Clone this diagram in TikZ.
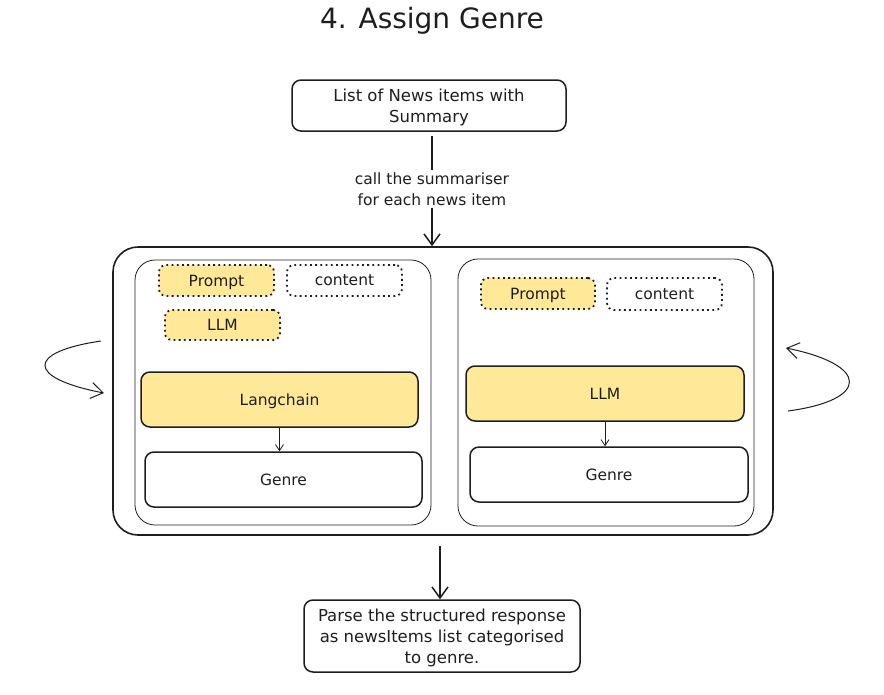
\documentclass[tikz,border=0pt]{standalone}
\usepackage{fontspec}
\setmainfont{DejaVu Sans}
\usetikzlibrary{arrows.meta}
\definecolor{ink}{HTML}{1E1E1E}
\definecolor{ylw}{HTML}{FFE999}
\tikzset{
  box/.style={draw=ink, line width=1.5pt, rounded corners=9pt, inner sep=0pt, align=center, text depth=0pt, font=\fontsize{15.5}{21}\selectfont, text=ink},
  ybox/.style={box, fill=ylw},
  dbox/.style={draw=ink, line width=1.8pt, dash pattern=on 1.8pt off 3.4pt, rounded corners=7pt, inner sep=0pt, text depth=0pt, font=\fontsize{15.5}{17}\selectfont, text=ink},
  frame/.style={draw=ink, inner sep=0pt},
  arr/.style={draw=ink, line width=1.5pt, -{Straight Barb[length=11pt,width=16pt]}},
  thinarr/.style={draw=ink, line width=0.8pt, -{Straight Barb[length=6pt,width=8pt]}},
  looparr/.style={draw=ink, line width=1pt, -{Straight Barb[length=12pt,width=16pt]}},
  lbl/.style={fill=white, inner sep=2pt, align=center, font=\fontsize{15.5}{21}\selectfont, text=ink},
  big/.style={font=\fontsize{16.5}{21}\selectfont}
}
\begin{document}
\begin{tikzpicture}[x=1pt,y=-1pt]
\useasboundingbox (0,0) rectangle (884,694);
\node[font=\fontsize{28}{32}\selectfont, text=ink, text depth=0pt] (title) at (432,18) {4. Assign Genre};
\node[box, big, minimum width=274pt, minimum height=51pt] (top) at (429,105.5) {List of News items with\\Summary};
\node[frame, line width=1.6pt, rounded corners=25pt, minimum width=660pt, minimum height=288pt] (outer) at (443,391) {};
\node[frame, line width=0.8pt, rounded corners=20pt, minimum width=296pt, minimum height=265pt] (inL) at (283,392.5) {};
\node[frame, line width=0.8pt, rounded corners=20pt, minimum width=296pt, minimum height=267pt] (inR) at (606,392.5) {};
% left panel
\node[dbox, fill=ylw, minimum width=115pt, minimum height=31pt] (promptL) at (216.5,280.5) {Prompt};
\node[dbox, minimum width=115pt, minimum height=31pt] (contentL) at (344.5,280.5) {content};
\node[dbox, fill=ylw, minimum width=115pt, minimum height=30pt] (llmL) at (222.5,325) {LLM};
\node[ybox, minimum width=277pt, minimum height=55pt] (lang) at (279.5,399.5) {Langchain};
\node[box, minimum width=277pt, minimum height=55pt] (genreL) at (283.5,479.5) {Genre};
% right panel
\node[dbox, fill=ylw, minimum width=114pt, minimum height=31pt] (promptR) at (538,293.5) {Prompt};
\node[dbox, minimum width=115pt, minimum height=32pt] (contentR) at (664.5,294) {content};
\node[ybox, minimum width=278pt, minimum height=55pt] (llmR) at (605,393.5) {LLM};
\node[box, minimum width=278pt, minimum height=55pt] (genreR) at (609,474.5) {Genre};
% bottom
\node[box, big, minimum width=276pt, minimum height=72pt] (bottom) at (442,636) {Parse the structured response\\as newsItems list categorised\\to genre.};
% label
\node[lbl] (call) at (432,189) {call the summariser\\for each news item};
% connectors
\draw[ink, line width=1.5pt] (top.south) ++(3,4) coordinate (ts) -- (ts |- call.north);
\draw[arr] (call.south) -- (call.south |- outer.north);
\draw[thinarr] (lang.south) -- (lang.south |- genreL.north);
\draw[thinarr] (llmR.south) -- (llmR.south |- genreR.north);
\draw[arr] (outer.south) ++(-3,10) coordinate (bs) -- (bs |- bottom.north);
% loops
\coordinate (la) at (101,341);
\coordinate (lb) at (104,393);
\draw[looparr] (la) .. controls (26,352) and (26,378) .. (lb);
\coordinate (ra) at (788,411);
\coordinate (rb) at (786,348);
\draw[looparr] (ra) .. controls (870,400) and (870,365) .. (rb);
\end{tikzpicture}
\end{document}
